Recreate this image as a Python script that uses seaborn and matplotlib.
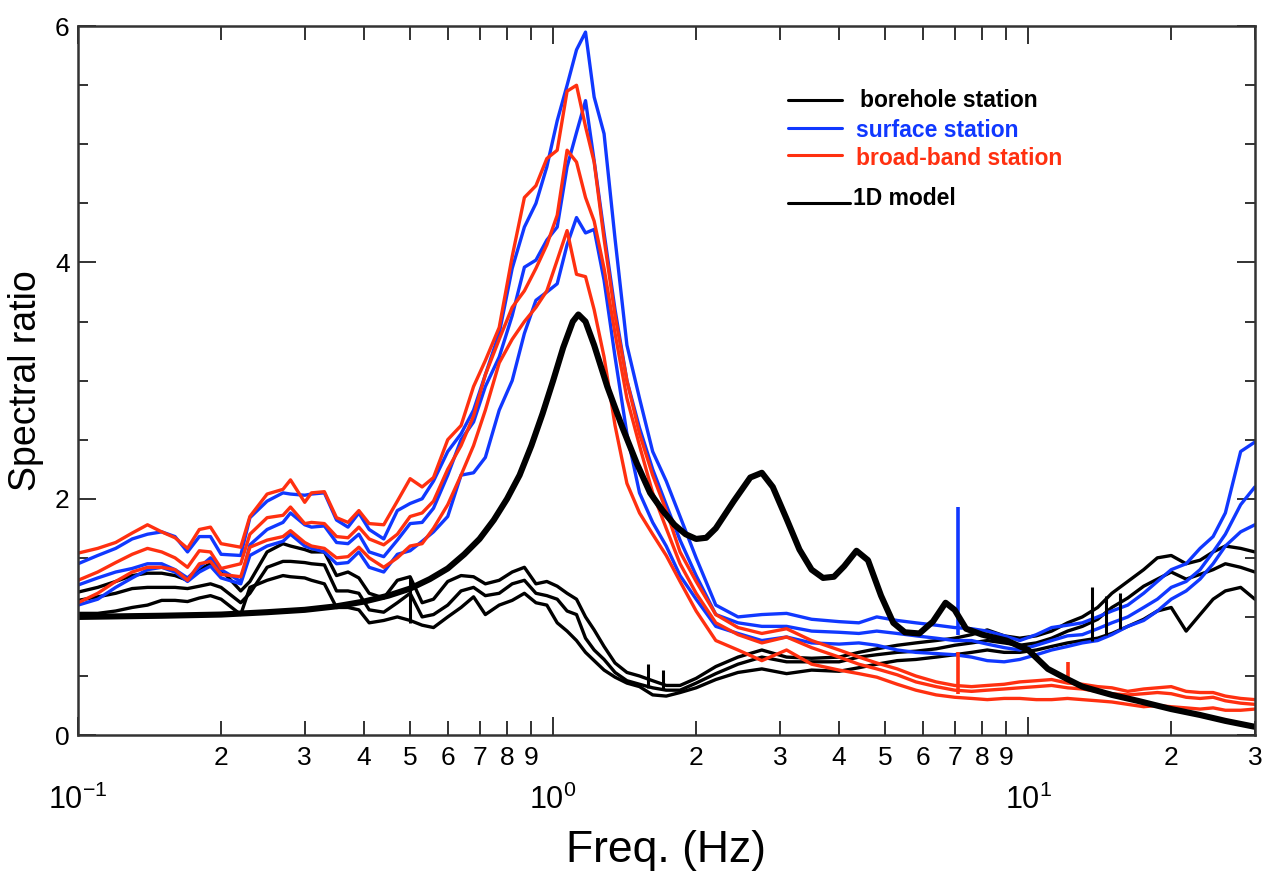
import numpy as np
import pandas as pd
import matplotlib
matplotlib.use("Agg")
import matplotlib.pyplot as plt
import seaborn as sns
from matplotlib.ticker import FixedLocator, FixedFormatter, NullFormatter
from matplotlib.lines import Line2D

# ---------------- data ----------------
freq = [0.10, 0.11, 0.12, 0.13, 0.14, 0.15, 0.16, 0.17, 0.18, 0.19,
        0.20, 0.22, 0.23, 0.25, 0.27, 0.28, 0.30, 0.31, 0.33, 0.35,
        0.37, 0.39, 0.41, 0.44, 0.47, 0.50, 0.53, 0.56, 0.60, 0.64,
        0.68, 0.72, 0.77, 0.82, 0.87, 0.92, 0.97, 1.02, 1.07, 1.12,
        1.17, 1.22, 1.28, 1.35, 1.43, 1.52, 1.62, 1.73, 1.85, 2.0,
        2.2, 2.45, 2.75, 3.1, 3.5, 4.0, 4.4, 4.8, 5.3, 5.8,
        6.4, 7.0, 7.6, 8.2, 8.9, 9.6, 10.4, 11.2, 12.1, 13,
        14, 15, 16.2, 17.5, 18.7, 20, 21.5, 23, 24.5, 26,
        28, 30]

red_1 = [1.54, 1.58, 1.63, 1.71, 1.78, 1.72, 1.67, 1.58, 1.74, 1.76,
         1.62, 1.59, 1.85, 2.04, 2.08, 2.16, 1.97, 2.05, 2.06, 1.84,
         1.80, 1.90, 1.79, 1.78, 1.98, 2.17, 2.10, 2.18, 2.50, 2.62,
         2.95, 3.17, 3.45, 4.05, 4.55, 4.65, 4.88, 4.95, 5.45, 5.50,
         5.15, 4.85, 4.20, 3.55, 3.00, 2.55, 2.20, 1.90, 1.55, 1.30,
         1.02, 0.91, 0.86, 0.90, 0.80, 0.72, 0.66, 0.61, 0.56, 0.50,
         0.45, 0.42, 0.41, 0.42, 0.43, 0.45, 0.46, 0.47, 0.44, 0.43,
         0.41, 0.40, 0.37, 0.39, 0.40, 0.41, 0.37, 0.36, 0.36, 0.33,
         0.31, 0.30]
red_2 = [1.31, 1.38, 1.46, 1.53, 1.58, 1.55, 1.50, 1.42, 1.56, 1.55,
         1.41, 1.45, 1.70, 1.84, 1.86, 1.93, 1.79, 1.80, 1.79, 1.68,
         1.67, 1.76, 1.66, 1.61, 1.70, 1.85, 1.88, 1.98, 2.25, 2.45,
         2.70, 3.05, 3.35, 3.62, 3.76, 3.95, 4.15, 4.40, 4.95, 4.85,
         4.55, 4.35, 3.95, 3.40, 2.85, 2.45, 2.05, 1.75, 1.45, 1.20,
         0.95, 0.85, 0.78, 0.83, 0.74, 0.66, 0.60, 0.56, 0.51, 0.45,
         0.41, 0.38, 0.37, 0.38, 0.39, 0.40, 0.41, 0.42, 0.40, 0.39,
         0.37, 0.35, 0.34, 0.35, 0.36, 0.35, 0.32, 0.31, 0.32, 0.29,
         0.27, 0.26]
red_3 = [1.12, 1.20, 1.30, 1.38, 1.42, 1.42, 1.40, 1.31, 1.45, 1.47,
         1.36, 1.34, 1.59, 1.65, 1.68, 1.73, 1.63, 1.60, 1.58, 1.50,
         1.51, 1.59, 1.50, 1.42, 1.50, 1.60, 1.62, 1.75, 1.95, 2.20,
         2.45, 2.75, 3.15, 3.35, 3.50, 3.62, 3.76, 4.02, 4.27, 3.90,
         3.88, 3.60, 3.20, 2.62, 2.13, 1.88, 1.70, 1.52, 1.30, 1.05,
         0.80, 0.72, 0.63, 0.72, 0.60, 0.55, 0.52, 0.49, 0.43, 0.38,
         0.34, 0.32, 0.31, 0.30, 0.31, 0.31, 0.30, 0.30, 0.31, 0.30,
         0.29, 0.28, 0.26, 0.24, 0.25, 0.24, 0.23, 0.22, 0.23, 0.21,
         0.21, 0.22]

blue_1 = [1.45, 1.52, 1.58, 1.66, 1.70, 1.72, 1.68, 1.55, 1.68, 1.68,
          1.53, 1.52, 1.84, 1.98, 2.05, 2.04, 2.03, 2.04, 2.05, 1.82,
          1.76, 1.88, 1.74, 1.66, 1.90, 1.96, 2.00, 2.15, 2.40, 2.55,
          2.75, 3.05, 3.40, 3.95, 4.30, 4.50, 4.81, 5.20, 5.50, 5.80,
          5.95, 5.40, 5.09, 4.20, 3.30, 2.85, 2.40, 2.15, 1.85, 1.50,
          1.10, 1.00, 1.02, 1.03, 0.98, 0.96, 0.95, 1.00, 0.97, 0.95,
          0.93, 0.91, 0.90, 0.88, 0.84, 0.80, 0.85, 0.91, 0.93, 0.95,
          1.00, 1.05, 1.10, 1.20, 1.30, 1.40, 1.45, 1.58, 1.68, 1.88,
          2.40, 2.48]
blue_2 = [1.27, 1.33, 1.38, 1.41, 1.45, 1.45, 1.40, 1.33, 1.42, 1.50,
          1.40, 1.30, 1.61, 1.74, 1.80, 1.88, 1.78, 1.76, 1.77, 1.63,
          1.62, 1.70, 1.55, 1.51, 1.65, 1.79, 1.80, 1.92, 2.20, 2.50,
          2.65, 2.95, 3.20, 3.55, 3.96, 4.02, 4.19, 4.30, 4.81, 5.10,
          5.37, 4.86, 4.25, 3.60, 3.00, 2.60, 2.25, 1.95, 1.65, 1.35,
          1.02, 0.95, 0.92, 0.92, 0.88, 0.87, 0.86, 0.88, 0.86, 0.84,
          0.82, 0.80, 0.80, 0.77, 0.74, 0.72, 0.76, 0.80, 0.84, 0.85,
          0.90, 0.95, 1.00, 1.08, 1.15, 1.25, 1.30, 1.40, 1.55, 1.70,
          1.95, 2.10]
blue_3 = [1.10, 1.15, 1.25, 1.33, 1.40, 1.42, 1.38, 1.30, 1.38, 1.43,
          1.33, 1.28, 1.52, 1.60, 1.64, 1.70, 1.60, 1.58, 1.55, 1.45,
          1.46, 1.55, 1.42, 1.38, 1.53, 1.56, 1.64, 1.72, 1.85, 2.20,
          2.22, 2.35, 2.75, 3.00, 3.40, 3.68, 3.75, 3.82, 4.15, 4.38,
          4.25, 4.28, 3.85, 3.20, 2.55, 2.05, 1.80, 1.60, 1.35, 1.15,
          0.92, 0.86, 0.80, 0.83, 0.78, 0.77, 0.78, 0.76, 0.72, 0.70,
          0.69, 0.68, 0.66, 0.63, 0.62, 0.64, 0.68, 0.72, 0.75, 0.78,
          0.80, 0.85, 0.92, 0.97, 1.05, 1.15, 1.22, 1.32, 1.45, 1.60,
          1.72, 1.78]

black_1 = [1.21, 1.25, 1.30, 1.35, 1.37, 1.37, 1.35, 1.31, 1.40, 1.45,
           1.40, 1.22, 1.30, 1.55, 1.62, 1.60, 1.57, 1.55, 1.55, 1.35,
           1.38, 1.33, 1.20, 1.16, 1.31, 1.34, 1.12, 1.15, 1.30, 1.35,
           1.34, 1.28, 1.31, 1.38, 1.42, 1.28, 1.30, 1.26, 1.20, 1.15,
           1.00, 0.89, 0.75, 0.61, 0.53, 0.50, 0.46, 0.42, 0.42, 0.48,
           0.58, 0.66, 0.72, 0.66, 0.65, 0.66, 0.70, 0.73, 0.76, 0.78,
           0.80, 0.82, 0.85, 0.89, 0.84, 0.82, 0.84, 0.88, 0.95, 1.00,
           1.08, 1.20, 1.30, 1.40, 1.50, 1.52, 1.45, 1.48, 1.55, 1.60,
           1.58, 1.55]
black_2 = [1.14, 1.17, 1.20, 1.24, 1.25, 1.25, 1.25, 1.24, 1.26, 1.28,
           1.25, 1.12, 1.20, 1.42, 1.47, 1.47, 1.46, 1.45, 1.44, 1.22,
           1.22, 1.20, 1.06, 1.04, 1.12, 1.20, 1.00, 1.02, 1.10, 1.22,
           1.25, 1.18, 1.20, 1.28, 1.31, 1.20, 1.18, 1.15, 1.05, 1.02,
           0.82, 0.72, 0.64, 0.53, 0.46, 0.43, 0.40, 0.38, 0.38, 0.44,
           0.52, 0.60, 0.66, 0.62, 0.62, 0.62, 0.66, 0.68, 0.70, 0.71,
           0.73, 0.76, 0.78, 0.80, 0.78, 0.76, 0.78, 0.82, 0.88, 0.92,
           0.98, 1.08, 1.16, 1.26, 1.32, 1.38, 1.32, 1.36, 1.40, 1.45,
           1.42, 1.38]
black_3 = [1.03, 1.03, 1.05, 1.08, 1.10, 1.14, 1.14, 1.13, 1.16, 1.18,
           1.15, 1.02, 1.25, 1.31, 1.35, 1.34, 1.33, 1.31, 1.28, 1.08,
           1.08, 1.06, 0.95, 0.97, 1.00, 0.97, 0.93, 0.91, 1.00, 1.08,
           1.17, 1.02, 1.10, 1.14, 1.20, 1.12, 1.10, 0.95, 0.88, 0.80,
           0.70, 0.63, 0.55, 0.49, 0.44, 0.41, 0.34, 0.33, 0.36, 0.40,
           0.47, 0.53, 0.56, 0.52, 0.55, 0.54, 0.57, 0.60, 0.63, 0.64,
           0.66, 0.68, 0.70, 0.72, 0.70, 0.70, 0.72, 0.75, 0.78, 0.80,
           0.82, 0.86, 0.92, 0.98, 1.05, 1.08, 0.88, 1.02, 1.15, 1.22,
           1.25, 1.15]

model_freq = [0.10, 0.15, 0.20, 0.25, 0.30, 0.35, 0.40, 0.45, 0.50, 0.55,
              0.60, 0.65, 0.70, 0.75, 0.80, 0.85, 0.90, 0.95, 1.00, 1.05,
              1.10, 1.13, 1.17, 1.22, 1.30, 1.40, 1.50, 1.60, 1.70, 1.80,
              1.90, 2.00, 2.10, 2.20, 2.40, 2.60, 2.75, 2.90, 3.10, 3.30,
              3.50, 3.70, 3.90, 4.10, 4.35, 4.60, 4.90, 5.20, 5.50, 5.90,
              6.30, 6.70, 7.00, 7.40, 8.00, 9.00, 10.0, 11.0, 12.0, 13.0,
              15.0, 17.0, 20.0, 23.0, 26.0, 30.0]
model_ratio = [1.00, 1.01, 1.02, 1.04, 1.06, 1.09, 1.13, 1.18, 1.24, 1.32,
               1.41, 1.53, 1.66, 1.82, 2.00, 2.20, 2.45, 2.72, 3.00, 3.28,
               3.50, 3.56, 3.50, 3.30, 2.95, 2.60, 2.30, 2.05, 1.90, 1.78,
               1.70, 1.66, 1.67, 1.75, 1.98, 2.18, 2.22, 2.10, 1.83, 1.57,
               1.40, 1.33, 1.34, 1.43, 1.56, 1.48, 1.18, 0.95, 0.87, 0.86,
               0.96, 1.12, 1.06, 0.90, 0.85, 0.80, 0.72, 0.56, 0.48, 0.41,
               0.34, 0.29, 0.22, 0.17, 0.12, 0.07]

# isolated spikes in the records
blue_spike_freq = [7.1]
blue_spike_low = [0.85]
blue_spike_high = [1.93]
red_spike_freq = [7.1, 12.1]
red_spike_low = [0.35, 0.45]
red_spike_high = [0.70, 0.62]
black_spike_freq = [0.50, 1.58, 1.70, 13.6, 14.6, 15.6]
black_spike_low = [0.95, 0.40, 0.38, 0.80, 0.85, 0.90]
black_spike_high = [1.34, 0.60, 0.55, 1.25, 1.18, 1.20]

legend_labels = ["borehole station", "surface station", "broad-band station", "1D model"]
x_major = [0.1, 1, 10]
x_major_labels = ["$10^{-1}$", "$10^{0}$", "$10^{1}$"]
x_minor = [0.2, 0.3, 0.4, 0.5, 0.6, 0.7, 0.8, 0.9,
           2, 3, 4, 5, 6, 7, 8, 9, 20, 30]
x_minor_labels = ["2", "3", "4", "5", "6", "7", "8", "9",
                  "2", "3", "4", "5", "6", "7", "8", "9", "2", "3"]
y_major = [0, 2, 4, 6]
y_minor = [0.5, 1, 1.5, 2.5, 3, 3.5, 4.5, 5, 5.5]

BLACK = "#000000"
BLUE = "#1038FF"
RED = "#FF3010"

# ---------------- styling ----------------
sns.set_theme(style="ticks")
plt.rcParams["font.family"] = ["Liberation Sans", "DejaVu Sans"]
plt.rcParams["mathtext.default"] = "regular"
plt.rcParams["text.color"] = "black"
plt.rcParams["axes.labelcolor"] = "black"
plt.rcParams["xtick.color"] = "black"
plt.rcParams["ytick.color"] = "black"

fig = plt.figure(figsize=(12.65, 8.73), dpi=100)
ax = fig.add_axes([0.0617, 0.158, 0.9303, 0.812])

def long_df(curves, name):
    rows = []
    for k, vals in enumerate(curves):
        for f, v in zip(freq, vals):
            rows.append((name, f"{name}{k}", f, v))
    return pd.DataFrame(rows, columns=["station", "curve", "freq", "ratio"])

df_black = long_df([black_1, black_2, black_3], "borehole")
df_blue = long_df([blue_1, blue_2, blue_3], "surface")
df_red = long_df([red_1, red_2, red_3], "broadband")
df_model = pd.DataFrame({"freq": model_freq, "ratio": model_ratio})

for d, c in [(df_black, BLACK), (df_blue, BLUE), (df_red, RED)]:
    sns.lineplot(data=d, x="freq", y="ratio", units="curve", estimator=None,
                 sort=False, color=c, linewidth=2.4, legend=False, ax=ax)

ax.vlines(black_spike_freq, black_spike_low, black_spike_high, color=BLACK, lw=2.2)
ax.vlines(blue_spike_freq, blue_spike_low, blue_spike_high, color=BLUE, lw=2.6)
ax.vlines(red_spike_freq, red_spike_low, red_spike_high, color=RED, lw=2.6)

sns.lineplot(data=df_model, x="freq", y="ratio", sort=False, color=BLACK,
             linewidth=4.4, legend=False, ax=ax)

ax.set_xscale("log")
ax.set_xlim(0.1, 30)
ax.set_ylim(0, 6)

ax.xaxis.set_major_locator(FixedLocator(x_major))
ax.xaxis.set_major_formatter(FixedFormatter(x_major_labels))
ax.xaxis.set_minor_locator(FixedLocator(x_minor))
ax.xaxis.set_minor_formatter(FixedFormatter(x_minor_labels))
ax.yaxis.set_major_locator(FixedLocator(y_major))
ax.yaxis.set_minor_locator(FixedLocator(y_minor))
ax.yaxis.set_minor_formatter(NullFormatter())

ax.tick_params(axis="both", which="both", direction="in", top=True, right=True,
               color="#222222", width=1.3)
ax.tick_params(axis="x", which="major", length=13, pad=36, labelsize=22)
ax.tick_params(axis="x", which="minor", length=10, pad=8, labelsize=19)
ax.tick_params(axis="y", which="major", length=13, pad=6, labelsize=19)
ax.tick_params(axis="y", which="minor", length=7)

for s in ax.spines.values():
    s.set_color("#333333")
    s.set_linewidth(1.8)

ax.set_xlabel("Freq. (Hz)", fontsize=32, labelpad=10)
ax.set_ylabel("Spectral ratio", fontsize=27, labelpad=8)
ax.grid(False)

# legend drawn as in the original (hand-placed keys)
key_colors = [BLACK, BLUE, RED, BLACK]
key_y = [0.885, 0.853, 0.822, 0.768]
text_y = [0.885, 0.851, 0.819, 0.773]
text_x = [0.680, 0.677, 0.677, 0.674]
key_x1 = [0.666, 0.666, 0.666, 0.672]
for lab, c, ky, ty, tx, kx in zip(legend_labels, key_colors, key_y, text_y, text_x, key_x1):
    fig.add_artist(Line2D([0.623, kx], [ky, ky], color=c, lw=2.2))
    fig.text(tx, ty, lab, color=c, fontsize=16.5, fontweight="bold",
             family=["Liberation Sans", "DejaVu Sans"], va="center", ha="left")

fig.savefig("out.png", dpi=100, facecolor="white")
